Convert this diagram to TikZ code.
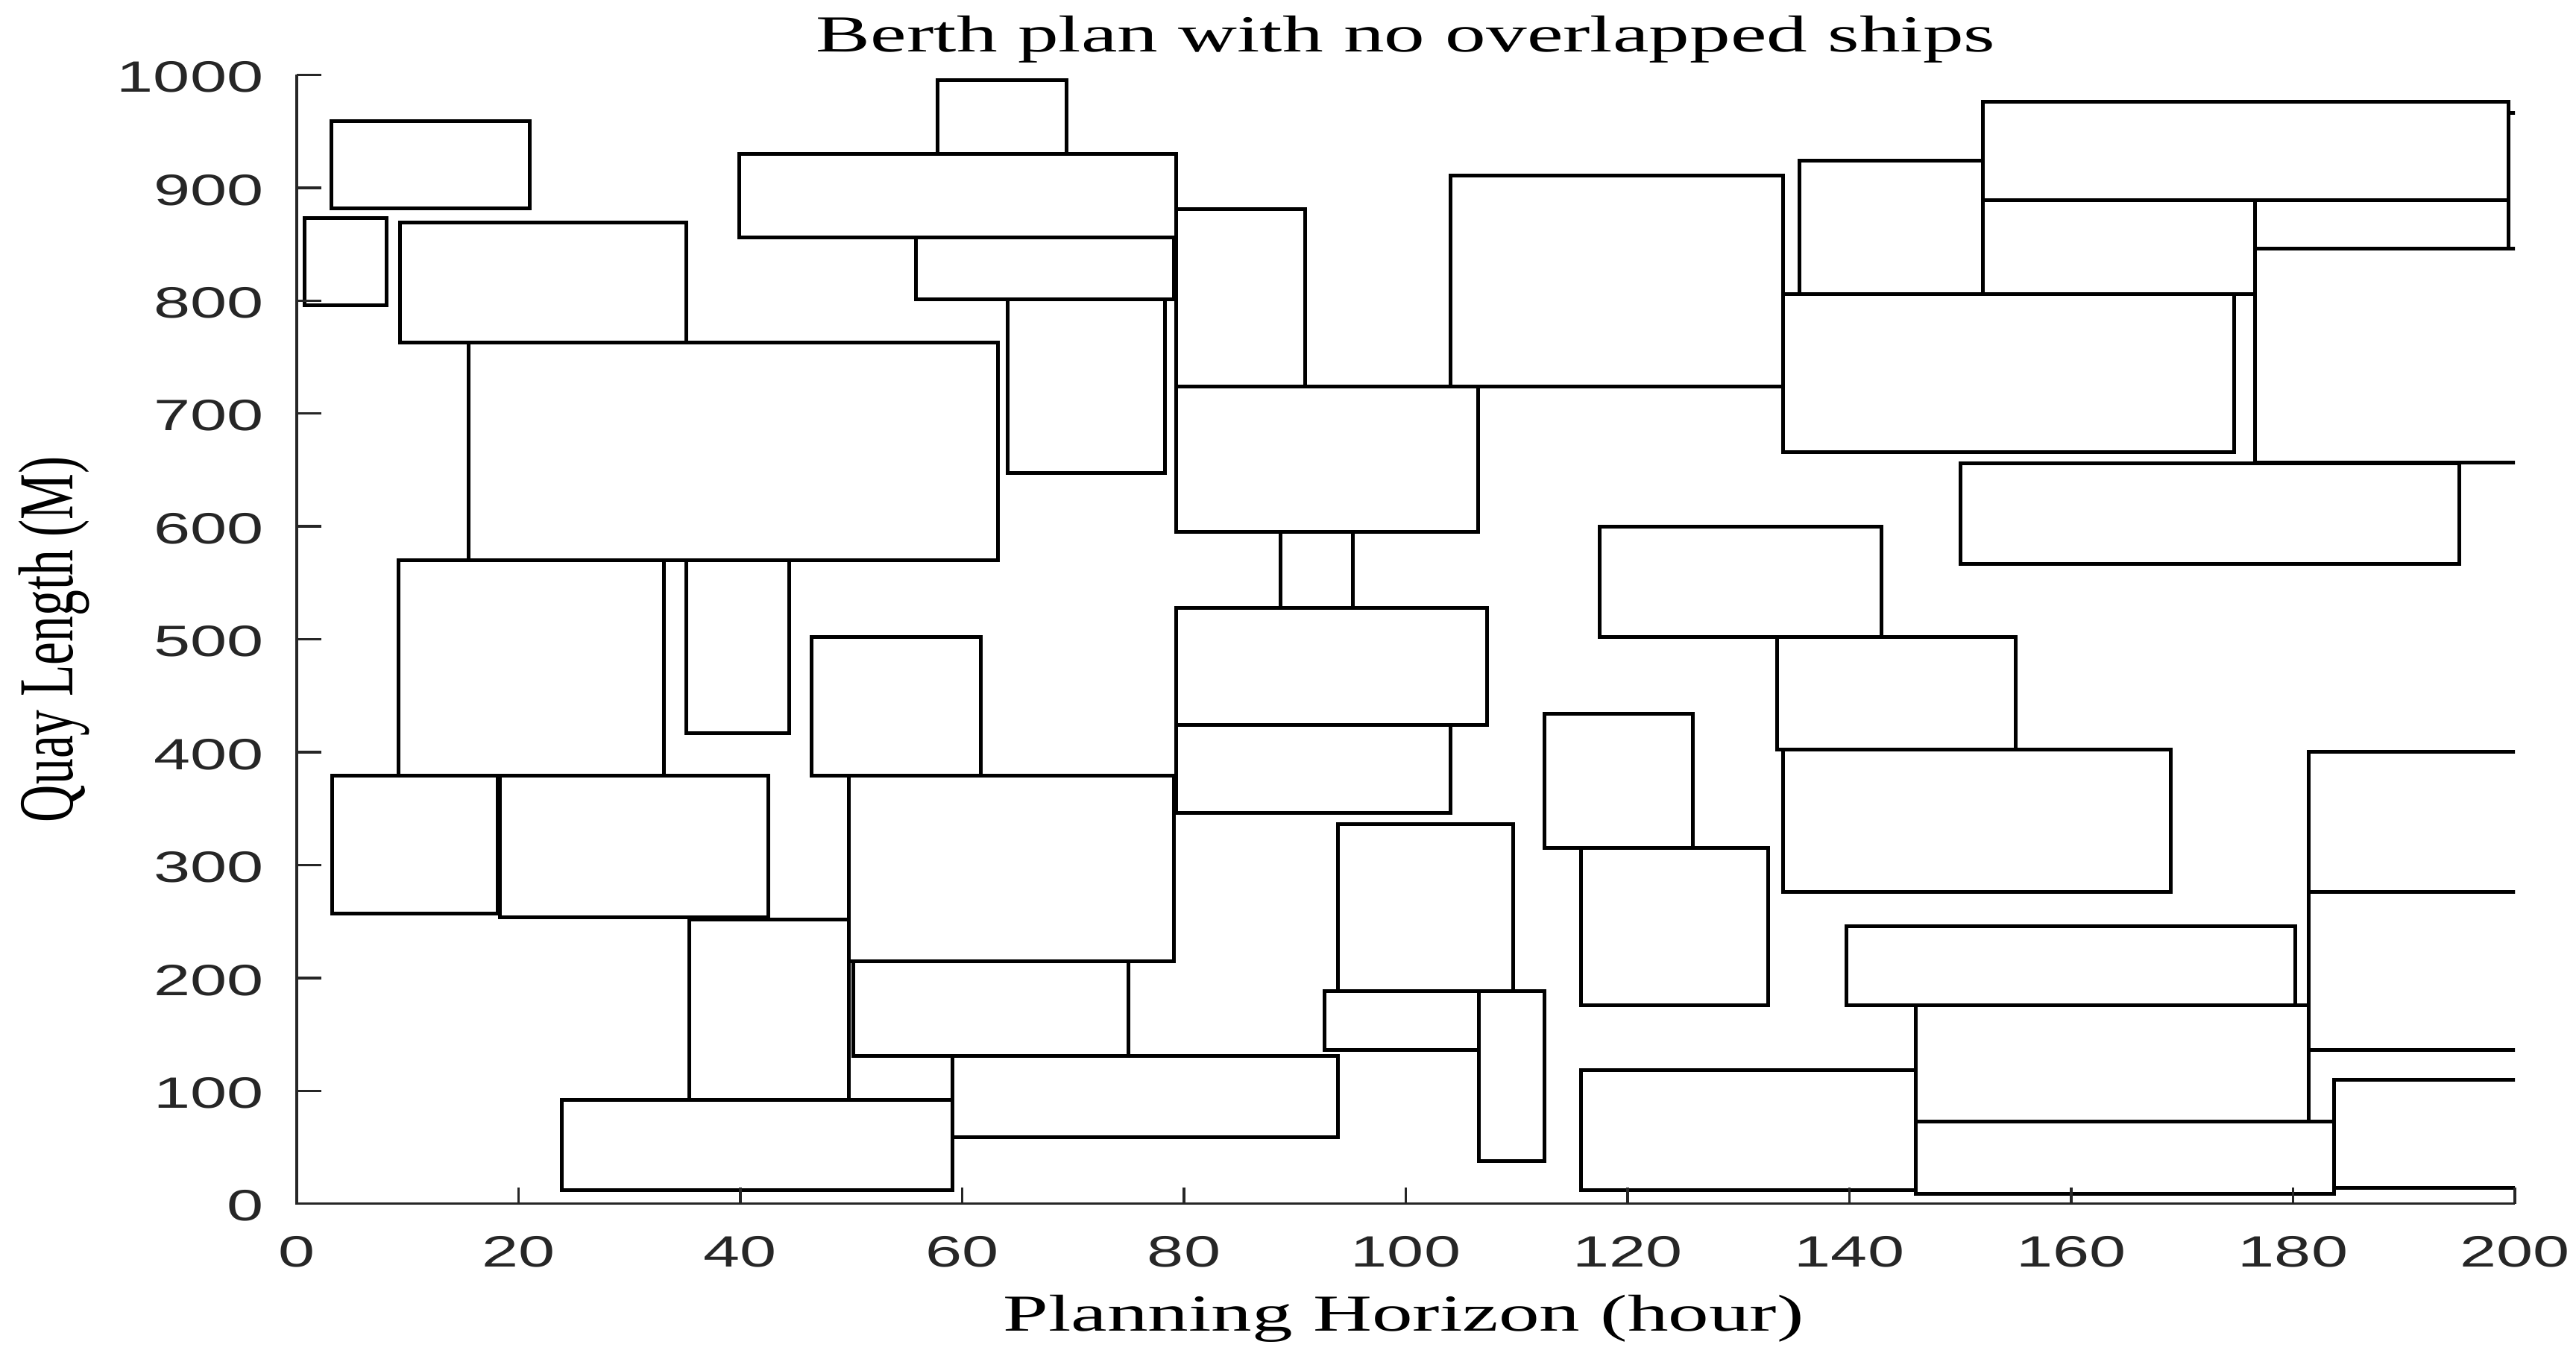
\documentclass[tikz,border=0pt]{standalone}
\usepackage{fontspec}
\usepackage{graphicx}
\setmainfont{Liberation Serif}
\newfontfamily\ticksf{Liberation Sans}
\definecolor{axgray}{RGB}{38,38,38}
\begin{document}
\begin{tikzpicture}[x=3.71875pt, y=0.378575pt,
  ship/.style={draw=black, line width=1.25pt},
  axisline/.style={draw=axgray, line width=0.85pt},
  ticklab/.style={font=\ticksf\fontsize{14.7}{16}\selectfont, text=axgray, inner sep=0pt},
  seriflab/.style={font=\fontsize{17.4}{20}\selectfont, text=black, inner sep=0pt}]
\useasboundingbox (-26.756,-134.9) rectangle (205.513,1066.3);

% ships
\begin{scope}[yshift=0.3786pt]
\clip (-2,-10) rectangle (200,1010);
\draw[ship] (3.1,881) rectangle (21,958);
\draw[ship] (0.7,795) rectangle (8.1,872);
\draw[ship] (9.3,762) rectangle (35.1,868);
\draw[ship] (15.5,569) rectangle (63.2,762);
\draw[ship] (39.9,855) rectangle (79.3,929);
\draw[ship] (57.8,929) rectangle (69.4,994);
\draw[ship] (55.8,800) rectangle (79.1,855);
\draw[ship] (64.1,646) rectangle (78.3,800);
\draw[ship] (79.3,723) rectangle (90.9,880);
\draw[ship] (104,723) rectangle (134,910);
\draw[ship] (79.3,594) rectangle (106.5,723);
\draw[ship] (88.7,527) rectangle (95.2,594);
\draw[ship] (79.3,423) rectangle (107.3,527);
\draw[ship] (79.3,345) rectangle (104,423);
\draw[ship] (117.5,501) rectangle (142.9,599);
\draw[ship] (133.5,401) rectangle (155,501);
\draw[ship] (134,275) rectangle (169,401);
\draw[ship] (181.4,275) rectangle (210,399);
\draw[ship] (181.4,135) rectangle (210,275);
\draw[ship] (146,71.5) rectangle (181.4,175);
\draw[ship] (146,8) rectangle (183.7,71.5);
\draw[ship] (183.7,13) rectangle (210,109);
\draw[ship] (139.7,175) rectangle (180.2,245);
\draw[ship] (115.8,11) rectangle (146,117);
\draw[ship] (115.8,175) rectangle (132.7,314);
\draw[ship] (112.5,314) rectangle (125.9,433);
\draw[ship] (93.9,187) rectangle (109.7,335);
\draw[ship] (92.7,135) rectangle (106.6,187);
\draw[ship] (106.6,37) rectangle (112.5,187);
\draw[ship] (59.1,58) rectangle (93.9,130);
\draw[ship] (50.2,130) rectangle (75,214);
\draw[ship] (49.8,214) rectangle (79.1,378);
\draw[ship] (46.4,378) rectangle (61.7,501);
\draw[ship] (35.4,91) rectangle (49.8,251);
\draw[ship] (23.9,11) rectangle (59.1,91);
\draw[ship] (3.2,256) rectangle (18.1,378);
\draw[ship] (18.3,253) rectangle (42.5,378);
\draw[ship] (9.15,378) rectangle (33.1,569);
\draw[ship] (35.1,415.5) rectangle (44.4,569);
\draw[ship] (150,566) rectangle (195,655);
\draw[ship] (176.6,655.5) rectangle (210,845);
\draw[ship] (176.6,845) rectangle (199.4,888);
\draw[ship] (152,888) rectangle (199.4,975);
\draw[ship] (152,805) rectangle (176.6,888);
\draw[ship] (135.5,805) rectangle (152,923);
\draw[ship] (134,665) rectangle (174.7,805);
\draw[ship] (199.4,965) -- (200.5,965);
\end{scope}

% axes
\draw[axisline] (0,1000) -- (0,0) -- (200,0);
\foreach \v in {100,200,...,1000} \draw[axisline] (0,\v) -- (2.2,\v);
\foreach \v in {20,40,...,200} \draw[axisline] (\v,0) -- (\v,14.3);

% tick labels
\foreach \v in {0,100,...,1000}
  \node[ticklab, anchor=east] (yl\v) at (-2.96,{\v-2}) {\scalebox{1.5}[1]{\v}};
\foreach \v in {0,20,...,200}
  \node[ticklab, anchor=north] (xl\v) at (\v,-28.6) {\scalebox{1.5}[1]{\v}};

% titles
\node[seriflab, anchor=base] (title) at (100,1020.6) {\scalebox{1.57}[1]{Berth plan with no overlapped ships}};
\node[seriflab, anchor=base] (xlabel) at (99.8,-112.5) {\scalebox{1.57}[1]{Planning Horizon (hour)}};
\node[seriflab, anchor=base, rotate=90] (ylabel) at (-20.2,500) {\scalebox{1}[1.5]{Quay Length (M)}};
\end{tikzpicture}
\end{document}
